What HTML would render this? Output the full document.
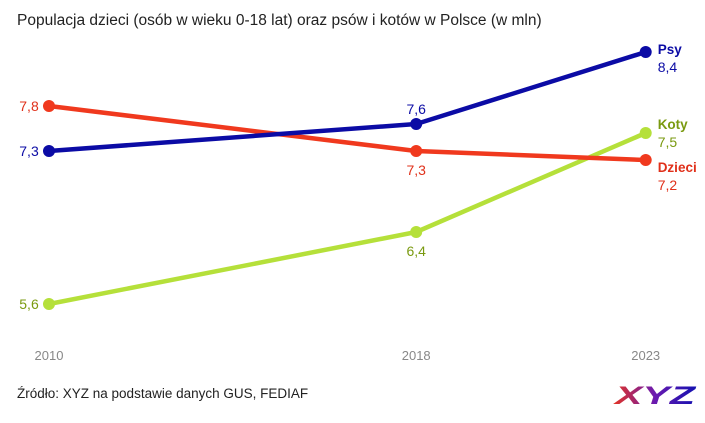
<!DOCTYPE html>
<html><head><meta charset="utf-8"><style>
body{margin:0;background:#fff;width:705px;height:418px;overflow:hidden;font-family:"Liberation Sans",sans-serif}
svg text{font-family:"Liberation Sans",sans-serif}
</style></head><body>
<svg width="705" height="418">
<defs><linearGradient id="lg" x1="0" x2="1"><stop offset="0" stop-color="#e8341e"/><stop offset="0.5" stop-color="#6a1ab0"/><stop offset="1" stop-color="#1010b0"/></linearGradient></defs>
<text x="17" y="25" font-size="15.5" fill="#222">Populacja dzieci (osób w wieku 0-18 lat) oraz psów i kotów w Polsce (w mln)</text>
<g id="plot"></g>
<text x="17" y="398" font-size="13.5" fill="#222">Źródło: XYZ na podstawie danych GUS, FEDIAF</text>
<text x="615" y="404" font-size="25" font-weight="bold" font-style="italic" fill="url(#lg)" textLength="80" lengthAdjust="spacingAndGlyphs">XYZ</text>
</svg>
<script>
const years=[2010,2018,2023];
const psy=[7.3,7.6,8.4];
const dzieci=[7.8,7.3,7.2];
const koty=[5.6,6.4,7.5];
const fmt=v=>String(v).replace('.',',');
const X=y=>49+(y-2010)*45.9;
const Y=v=>151-(v-7.3)*90;
const g=document.getElementById('plot');
const NS='http://www.w3.org/2000/svg';
function mk(t,a){const e=document.createElementNS(NS,t);for(const k in a)e.setAttribute(k,a[k]);g.appendChild(e);return e;}
years.forEach(y=>{const t=mk('text',{x:X(y),y:360,'font-size':13,fill:'#888','text-anchor':'middle'});t.textContent=y;

});
const series=[
 {n:'koty',label:'Koty',d:koty,c:'#b5e03a',lc:'#7a9a10',mid:'below',off:-4},
 {n:'dzieci',label:'Dzieci',d:dzieci,c:'#f0391e',lc:'#e0301a',mid:'below',off:12},
 {n:'psy',label:'Psy',d:psy,c:'#0b0ba5',lc:'#0b0ba5',mid:'above',off:2}];
series.forEach(s=>{
 const p=mk('polyline',{points:s.d.map((v,i)=>X(years[i])+','+Y(v)).join(' '),fill:'none',stroke:s.c,'stroke-width':4.5,'stroke-linejoin':'round'});
 
 
 s.d.forEach((v,i)=>{
  const c=mk('circle',{cx:X(years[i]),cy:Y(v),r:6,fill:s.c});
  
  
  let t;
  if(i==0){t=mk('text',{x:X(years[i])-20,y:Y(v)+5,'font-size':14,fill:s.lc,'text-anchor':'middle'});t.textContent=fmt(v);}
  else if(i==1){t=mk('text',{x:X(years[i]),y:s.mid=='above'?Y(v)-10:Y(v)+24,'font-size':14,fill:s.lc,'text-anchor':'middle'});t.textContent=fmt(v);}
  else{const nm=mk('text',{x:X(years[i])+12,y:Y(v)+s.off,'font-size':13.5,'font-weight':'bold',fill:s.lc});nm.textContent=s.label;
   
   
   t=mk('text',{x:X(years[i])+12,y:Y(v)+s.off+18,'font-size':14,fill:s.lc});t.textContent=fmt(v);}
  
  
 });
});
</script>
</body></html>
